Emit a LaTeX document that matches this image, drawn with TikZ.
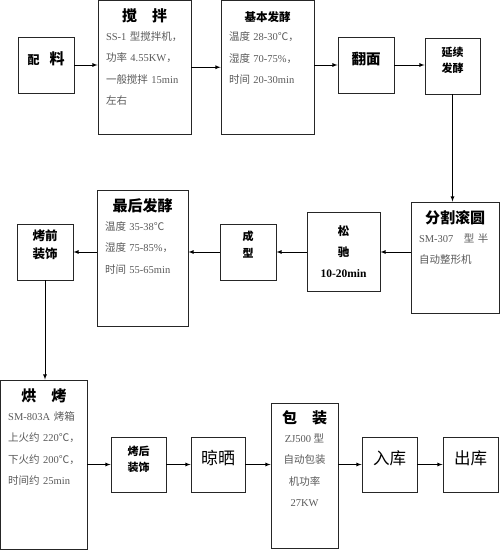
\documentclass[tikz,border=0pt]{standalone}
\usepackage{fontspec}
\setmainfont{Noto Sans CJK SC}
\newfontfamily\en{Liberation Serif}
\usetikzlibrary{positioning}

\definecolor{wenzi}{gray}{0.35}

\tikzset{
  box/.style={draw=black!85, line width=0.9pt, inner sep=0pt, align=center},
  sq/.style={box, minimum width=56pt, minimum height=56pt},
  ttl/.style={inner sep=0pt, font=\bfseries\fontsize{15}{15}\selectfont},
  txt/.style={inner sep=0pt, text=wenzi, font=\fontsize{10.5}{21.5}\selectfont},
  arr/.style={->, >=latex, line width=0.8pt}
}

\begin{document}
\begin{tikzpicture}[x=1pt, y=-1pt]
  \useasboundingbox (0,0) rectangle (500,550);

  % 第一行
  \node[sq, text depth=14pt, font=\bfseries\fontsize{15}{15}\selectfont] (peiliao) at (46,65)
    {{\fontsize{12}{12}\selectfont 配}\hspace{10pt}料};
  \node[box, minimum width=93pt, minimum height=133.5pt] (jiaoban) at (144.5,67.25) {};
  \node[ttl, below=8.5pt of jiaoban.north] (jiaobanT) {搅\quad 拌};
  \node[txt, below=8pt of jiaobanT.south, text width=77pt, align=left] (jiaobanX)
    {{\en SS-1} 型搅拌机，\\功率 {\en 4.55KW}，\\一般搅拌 {\en 15min}\\左右};
  \node[box, minimum width=93pt, minimum height=133.5pt] (jiben) at (267.5,67.25) {};
  \node[ttl, font=\bfseries\fontsize{11.5}{11.5}\selectfont, below=11pt of jiben.north] (jibenT) {基本发酵};
  \node[txt, below=9pt of jibenT.south, text width=77pt, align=left] (jibenX)
    {温度 {\en 28-30}℃，\\湿度 {\en 70-75\%}，\\时间 {\en 20-30min}};
  \node[sq, text depth=14pt, font=\bfseries\fontsize{14.5}{14.5}\selectfont] (fanmian) at (366,65) {翻面};
  \node[sq, minimum width=55pt, text depth=13pt, font=\bfseries\fontsize{11}{16}\selectfont] (yanxu) at (452.5,66) {延续\\发酵};

  % 第二行
  \node[box, minimum width=88pt, minimum height=111pt] (fenge) at (455,257.5) {};
  \node[ttl, below=9pt of fenge.north] (fengeT) {分割滚圆};
  \node[txt, below=8pt of fengeT.south, text width=72pt, align=left] (fengeX)
    {{\en SM-307}\quad 型\ 半\\自动整形机};
  \node[box, minimum width=73pt, minimum height=79pt, font=\bfseries\fontsize{11.5}{21}\selectfont] (songchi) at (343.5,252)
    {松\\驰\\{\en\bfseries 10-20min}};
  \node[sq, text depth=15pt, font=\bfseries\fontsize{11}{17}\selectfont] (chengxing) at (248,252) {成\\型};
  \node[box, minimum width=91pt, minimum height=136pt] (zuihou) at (142.5,258) {};
  \node[ttl, below=9pt of zuihou.north] (zuihouT) {最后发酵};
  \node[txt, below=8pt of zuihouT.south, text width=75pt, align=left] (zuihouX)
    {温度 {\en 35-38}℃\\湿度 {\en 75-85\%}，\\时间 {\en 55-65min}};
  \node[sq, text depth=15pt, font=\bfseries\fontsize{12.5}{18}\selectfont] (kqzs) at (45,252) {烤前\\装饰};

  % 第三行
  \node[box, minimum width=86.5pt, minimum height=169.5pt] (hongkao) at (43.75,464.75) {};
  \node[ttl, below=9pt of hongkao.north] (hongkaoT) {烘\quad 烤};
  \node[txt, below=8pt of hongkaoT.south, text width=79pt, align=left, xshift=4pt] (hongkaoX)
    {{\en SM-803A} 烤箱\\上火约 {\en 220}℃，\\下火约 {\en 200}℃，\\时间约 {\en 25min}};
  \node[sq, minimum width=55pt, minimum height=55pt, text depth=12pt, font=\bfseries\fontsize{11}{16}\selectfont] (khzs) at (138.5,464.5) {烤后\\装饰};
  \node[sq, minimum width=54pt, minimum height=55pt, text depth=14pt, font=\fontsize{17}{17}\selectfont] (liangshai) at (218,464.5) {晾晒};
  \node[box, minimum width=67pt, minimum height=145pt] (baozhuang) at (304.5,475.5) {};
  \node[ttl, below=8pt of baozhuang.north] (baozhuangT) {包\quad 装};
  \node[txt, below=8pt of baozhuangT.south, align=center] (baozhuangX)
    {{\en ZJ500} 型\\自动包装\\机功率\\{\en 27KW}};
  \node[sq, minimum width=55pt, minimum height=55pt, text depth=14pt, font=\fontsize{16.5}{16.5}\selectfont] (ruku) at (389.5,464.5) {入库};
  \node[sq, minimum width=55pt, minimum height=55pt, text depth=14pt, font=\fontsize{16.5}{16.5}\selectfont] (chuku) at (470.5,464.5) {出库};

  % 箭头
  \draw[arr] (peiliao.east) -- (peiliao.east -| jiaoban.west);
  \draw[arr] (jiaoban) -- (jiben);
  \draw[arr] (jiben.east |- fanmian) -- (fanmian.west);
  \draw[arr] (fanmian.east) -- (fanmian.east -| yanxu.west);
  \draw[arr] (yanxu.south) -- (yanxu.south |- fenge.north);
  \draw[arr] (songchi.east -| fenge.west) -- (songchi.east);
  \draw[arr] (songchi) -- (chengxing);
  \draw[arr] (chengxing.west) -- (chengxing.west -| zuihou.east);
  \draw[arr] (zuihou.west |- kqzs) -- (kqzs.east);
  \draw[arr] (kqzs.south) -- (kqzs.south |- hongkao.north);
  \draw[arr] (hongkao.east |- khzs) -- (khzs.west);
  \draw[arr] (khzs) -- (liangshai);
  \draw[arr] (liangshai.east) -- (liangshai.east -| baozhuang.west);
  \draw[arr] (baozhuang.east |- ruku) -- (ruku.west);
  \draw[arr] (ruku) -- (chuku);
\end{tikzpicture}
\end{document}
